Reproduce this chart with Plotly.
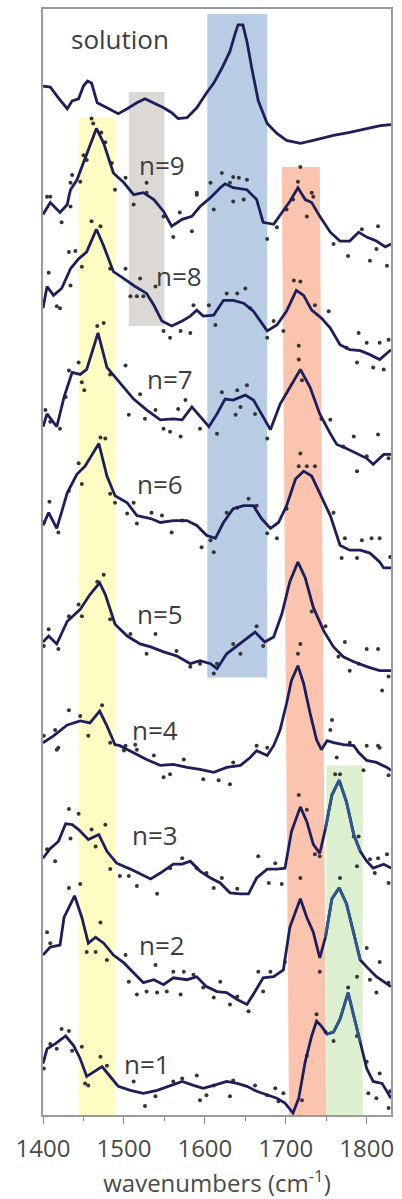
import plotly.graph_objects as go

# ---- spectra (wavenumber, stacked intensity in offset units) ----
sol_x = [1400, 1409, 1419, 1430, 1436, 1444, 1450, 1455, 1460, 1467, 1479, 1493, 1504, 1516, 1526, 1537,
         1549, 1559, 1567, 1578, 1590, 1602, 1611, 1621, 1631, 1637, 1641, 1647, 1652, 1658, 1666, 1677,
         1689, 1701, 1718, 1734, 1759, 1779, 1800, 1817, 1830]
sol_y = [1042, 1041, 1030, 1019, 1027, 1029, 1042, 1047, 1045, 1025, 1020, 1014, 1019, 1025, 1029, 1025,
         1020, 1015, 1009, 1010, 1020, 1035, 1045, 1060, 1077, 1094, 1104, 1104, 1087, 1060, 1027, 1004,
         994, 987, 984, 987, 992, 995, 999, 1002, 1003]

n9_x = [1400, 1409, 1421, 1430, 1432, 1434, 1442, 1454, 1466, 1475, 1487, 1500, 1512, 1524, 1537, 1549,
        1559, 1572, 1584, 1594, 1607, 1619, 1625, 1635, 1652, 1664, 1672, 1685, 1695, 1705, 1715, 1724,
        1732, 1742, 1755, 1767, 1779, 1790, 1800, 1812, 1823, 1830]
n9_y = [912, 924, 914, 922, 930, 937, 947, 974, 999, 984, 954, 944, 932, 934, 927, 915,
        900, 907, 910, 920, 929, 939, 943, 939, 937, 927, 904, 902, 914, 925, 939, 927,
        924, 910, 894, 885, 885, 894, 889, 885, 879, 882]

n8_x = [1400, 1405, 1413, 1423, 1434, 1444, 1454, 1466, 1475, 1487, 1500, 1512, 1528, 1537, 1547, 1559,
        1572, 1582, 1590, 1598, 1611, 1623, 1635, 1648, 1660, 1668, 1677, 1689, 1701, 1713, 1722, 1732,
        1744, 1755, 1767, 1779, 1792, 1804, 1816, 1830]
n8_y = [817, 839, 830, 837, 857, 867, 874, 897, 880, 854, 847, 840, 832, 820, 804, 799,
        804, 809, 815, 809, 810, 825, 825, 822, 814, 804, 794, 800, 814, 835, 830, 815,
        807, 797, 780, 775, 774, 770, 765, 775]

n7_x = [1400, 1405, 1417, 1426, 1436, 1446, 1454, 1468, 1479, 1487, 1500, 1512, 1528, 1545, 1561, 1572,
        1584, 1594, 1605, 1615, 1625, 1635, 1650, 1660, 1672, 1681, 1693, 1705, 1718, 1730, 1742, 1755,
        1763, 1775, 1788, 1800, 1808, 1821, 1830]
n7_y = [697, 710, 697, 727, 752, 750, 755, 792, 757, 749, 737, 725, 714, 704, 705, 704,
        717, 707, 697, 710, 725, 724, 729, 724, 707, 694, 720, 737, 755, 737, 710, 690,
        679, 675, 670, 665, 659, 669, 669]

n6_x = [1400, 1407, 1417, 1430, 1442, 1452, 1469, 1479, 1489, 1504, 1516, 1533, 1545, 1561, 1578, 1590,
        1602, 1613, 1623, 1635, 1648, 1660, 1670, 1681, 1691, 1701, 1712, 1722, 1732, 1742, 1755, 1767,
        1779, 1792, 1804, 1816, 1821, 1830]
n6_y = [597, 610, 594, 630, 649, 657, 680, 647, 627, 620, 607, 604, 600, 602, 602, 597,
        587, 584, 600, 614, 617, 617, 604, 594, 600, 617, 644, 652, 647, 630, 607, 577,
        572, 572, 569, 560, 554, 554]

n5_x = [1400, 1407, 1417, 1430, 1446, 1458, 1470, 1477, 1489, 1504, 1520, 1533, 1549, 1565, 1582, 1594,
        1607, 1615, 1627, 1640, 1652, 1662, 1674, 1685, 1695, 1705, 1715, 1724, 1734, 1747, 1759, 1771,
        1784, 1800, 1816, 1830]
n5_y = [479, 485, 477, 500, 512, 527, 539, 527, 497, 485, 477, 474, 469, 465, 457, 460,
        457, 452, 467, 475, 482, 489, 479, 484, 507, 540, 560, 544, 514, 490, 474, 464,
        459, 454, 450, 450]

n4_x = [1400, 1413, 1430, 1446, 1458, 1470, 1479, 1489, 1495, 1512, 1528, 1545, 1561, 1578, 1594, 1611,
        1627, 1644, 1656, 1664, 1677, 1685, 1693, 1701, 1707, 1715, 1722, 1730, 1738, 1744, 1751, 1759,
        1771, 1784, 1790, 1800, 1812, 1825, 1830]
n4_y = [377, 384, 395, 399, 397, 409, 394, 375, 374, 367, 360, 354, 355, 352, 350, 347,
        352, 354, 362, 369, 364, 374, 390, 417, 440, 455, 437, 407, 380, 370, 379, 377,
        375, 374, 367, 359, 357, 352, 349]

n3_x = [1400, 1409, 1419, 1428, 1436, 1444, 1456, 1469, 1479, 1491, 1508, 1520, 1533, 1545, 1561, 1572,
        1582, 1594, 1607, 1619, 1631, 1644, 1654, 1664, 1677, 1689, 1699, 1707, 1718, 1726, 1734, 1742,
        1749, 1757, 1766, 1775, 1784, 1792, 1800, 1808, 1821, 1830]
n3_y = [260, 270, 277, 295, 294, 289, 279, 284, 267, 255, 249, 244, 239, 245, 254, 254,
        257, 247, 240, 235, 225, 224, 224, 240, 249, 249, 250, 287, 312, 297, 274, 265,
        290, 324, 339, 317, 284, 267, 257, 250, 254, 250]

n2_x = [1400, 1409, 1421, 1426, 1439, 1448, 1456, 1465, 1475, 1487, 1500, 1512, 1524, 1537, 1549, 1561,
        1578, 1590, 1602, 1615, 1627, 1640, 1652, 1662, 1672, 1685, 1697, 1705, 1718, 1726, 1734, 1742,
        1749, 1757, 1766, 1775, 1784, 1792, 1800, 1812, 1821, 1830]
n2_y = [162, 170, 172, 200, 222, 200, 174, 180, 174, 162, 154, 144, 134, 137, 132, 139,
        137, 140, 130, 125, 124, 117, 112, 125, 139, 140, 147, 190, 219, 200, 185, 159,
        180, 219, 230, 214, 184, 157, 150, 140, 135, 130]

n1_x = [1400, 1405, 1415, 1428, 1438, 1446, 1454, 1465, 1473, 1483, 1493, 1508, 1524, 1541, 1557, 1572,
        1586, 1598, 1611, 1627, 1640, 1652, 1664, 1677, 1689, 1699, 1709, 1716, 1724, 1732, 1738, 1744,
        1751, 1759, 1767, 1777, 1784, 1792, 1800, 1808, 1819, 1830]
n1_y = [52, 67, 72, 80, 70, 57, 39, 45, 49, 39, 29, 25, 22, 25, 30, 34,
        30, 27, 30, 34, 32, 29, 24, 20, 17, 12, 2, 17, 54, 80, 95, 90,
        82, 84, 97, 124, 100, 74, 47, 34, 32, 17]

# ---- raw data points scattered about each averaged spectrum ----
n9_dx = [1460, 1462, 1472, 1477, 1450, 1454, 1436, 1446, 1434, 1485, 1489, 1502, 1528, 1590, 1621, 1635,
         1642, 1652, 1607, 1631, 1718, 1715, 1732, 1405, 1409, 1423, 1434, 1512, 1528, 1549, 1561, 1569,
         1584, 1590, 1611, 1635, 1648, 1677, 1689, 1701, 1709, 1726, 1734, 1759, 1777, 1794, 1804, 1812,
         1814, 1825]
n9_dy = [1009, 1004, 995, 985, 972, 967, 952, 945, 944, 964, 937, 949, 944, 934, 954, 950,
         949, 947, 944, 944, 960, 945, 934, 930, 930, 904, 920, 922, 934, 910, 889, 914,
         895, 932, 917, 925, 927, 887, 899, 917, 927, 910, 930, 882, 870, 897, 865, 877,
         900, 860]

n8_dx = [1407, 1417, 1421, 1434, 1432, 1440, 1448, 1460, 1471, 1483, 1502, 1520, 1508, 1516, 1524, 1539,
         1549, 1557, 1570, 1582, 1586, 1605, 1613, 1627, 1640, 1650, 1656, 1677, 1685, 1697, 1710, 1718,
         1736, 1753, 1790, 1775, 1800, 1816, 1827, 1788, 1808, 1821]
n8_dy = [853, 819, 817, 840, 874, 875, 859, 905, 900, 857, 857, 847, 829, 829, 829, 839,
         794, 787, 794, 792, 820, 820, 800, 832, 832, 837, 817, 787, 804, 794, 845, 844,
         820, 814, 792, 777, 782, 782, 785, 762, 757, 755]

n7_dx = [1467, 1475, 1444, 1432, 1502, 1716, 1716, 1403, 1409, 1421, 1448, 1451, 1428, 1483, 1506, 1520,
         1526, 1539, 1549, 1557, 1570, 1567, 1576, 1594, 1615, 1621, 1640, 1652, 1638, 1644, 1662, 1677,
         1720, 1744, 1755, 1771, 1784, 1788, 1800, 1814, 1827]
n7_dy = [799, 802, 762, 754, 759, 779, 765, 714, 702, 695, 742, 734, 727, 750, 709, 730,
         705, 714, 695, 692, 687, 715, 724, 695, 690, 732, 734, 739, 709, 717, 710, 685,
         744, 705, 704, 677, 687, 652, 667, 689, 665]

n6_dx = [1408, 1401, 1419, 1432, 1444, 1448, 1471, 1477, 1483, 1489, 1504, 1512, 1516, 1534, 1547, 1559,
         1572, 1596, 1611, 1607, 1627, 1640, 1654, 1664, 1677, 1689, 1701, 1718, 1716, 1726, 1736, 1759,
         1773, 1788, 1794, 1806, 1816, 1829, 1769]
n6_dy = [621, 600, 590, 632, 660, 639, 686, 685, 629, 620, 609, 620, 599, 610, 607, 590,
         602, 575, 570, 582, 610, 615, 624, 617, 589, 584, 614, 670, 657, 657, 657, 610,
         584, 564, 582, 584, 584, 565, 564]

n5_dx = [1407, 1401, 1419, 1432, 1444, 1448, 1467, 1475, 1483, 1508, 1528, 1539, 1565, 1582, 1594, 1611,
         1615, 1635, 1644, 1664, 1672, 1732, 1749, 1765, 1773, 1779, 1800, 1814, 1819, 1827, 1790]
n5_dy = [492, 475, 472, 505, 517, 505, 540, 547, 502, 487, 467, 487, 470, 454, 457, 447,
         457, 477, 467, 495, 475, 510, 495, 464, 479, 450, 472, 472, 430, 444, 457]

n4_dx = [1401, 1415, 1417, 1432, 1446, 1456, 1473, 1483, 1502, 1514, 1677, 1718, 1715, 1755, 1757, 1779,
         1800, 1814, 1419, 1500, 1516, 1537, 1549, 1557, 1574, 1598, 1617, 1631, 1635, 1664, 1763, 1816,
         1827, 1796]
n4_dy = [384, 390, 370, 410, 404, 384, 415, 377, 374, 375, 372, 477, 467, 390, 400, 377,
         374, 374, 372, 369, 370, 364, 342, 345, 360, 340, 339, 335, 357, 374, 362, 372,
         344, 349]

n3_dx = [1432, 1444, 1434, 1415, 1405, 1460, 1465, 1477, 1483, 1495, 1506, 1516, 1541, 1557, 1572, 1590,
         1602, 1611, 1621, 1640, 1666, 1679, 1687, 1695, 1716, 1726, 1736, 1742, 1761, 1767, 1784, 1790,
         1788, 1804, 1814, 1810, 1825, 1827]
n3_dy = [310, 305, 280, 257, 269, 289, 272, 294, 249, 242, 242, 232, 224, 250, 260, 250,
         245, 230, 240, 229, 262, 235, 255, 234, 324, 309, 264, 262, 345, 345, 282, 282,
         252, 259, 260, 245, 264, 235]

n2_dx = [1432, 1446, 1471, 1405, 1718, 1767, 1409, 1454, 1465, 1479, 1502, 1506, 1516, 1528, 1539, 1541,
         1553, 1561, 1574, 1570, 1586, 1598, 1611, 1619, 1631, 1640, 1654, 1666, 1672, 1681, 1699, 1742,
         1800, 1788, 1804, 1812, 1816, 1827]
n2_dy = [230, 234, 195, 185, 240, 240, 174, 165, 165, 157, 162, 135, 122, 125, 152, 124,
         125, 145, 145, 122, 142, 129, 119, 135, 112, 120, 105, 145, 125, 145, 155, 145,
         169, 140, 137, 124, 155, 134]

n1_dx = [1401, 1409, 1417, 1423, 1432, 1436, 1448, 1452, 1456, 1471, 1479, 1512, 1526, 1539, 1561, 1572,
         1590, 1594, 1602, 1611, 1631, 1635, 1662, 1677, 1687, 1691, 1697, 1720, 1726, 1738, 1749, 1759,
         1777, 1788, 1800, 1802, 1812, 1816, 1827, 1829]
n1_dy = [47, 72, 67, 87, 85, 65, 69, 32, 30, 59, 50, 34, 9, 19, 34, 37,
         40, 15, 20, 30, 19, 35, 30, 20, 27, 14, 22, 15, 60, 102, 84, 75,
         129, 80, 54, 22, 17, 42, 7, 24]

# ---- labels ----
labels = ["solution", "n=9", "n=8", "n=7", "n=6", "n=5", "n=4", "n=3", "n=2", "n=1"]
label_x = [1495, 1547, 1568, 1557, 1544, 1544, 1539, 1539, 1547, 1528]
label_y = [1090, 962, 850, 745, 639, 507, 390, 284, 172, 52]

# ---- highlighted spectral regions ----
yellow_band = (1444, 1489, 0, 1010)
gray_band = (1506, 1550, 799, 1036)
blue_band = (1603, 1677, 443, 1115)
# salmon band drifts slightly to higher wavenumber toward the bottom
salmon_top = (1695, 1742, 960)
salmon_bottom = (1704, 1750, 0)
green_band = (1750, 1795, 0, 354)
green_lo, green_hi = 1749, 1795

tick_vals = [1400, 1500, 1600, 1700, 1800]
tick_text = ["1400", "1500", "1600", "1700", "1800"]

LINE = "#1d1e5c"
LINE_GREEN = "#2e5790"
DOT = "#353535"

fig = go.Figure()

def rect(b, color):
    x0, x1, y0, y1 = b
    fig.add_shape(type="rect", xref="x", yref="y", x0=x0, x1=x1, y0=y0, y1=y1,
                  fillcolor=color, line_width=0, layer="below")

rect(yellow_band, "#fffcc3")
rect(gray_band, "#dcd8d4")
rect(blue_band, "#b8cce3")
rect(green_band, "#dcf0cf")
fig.add_shape(type="path", xref="x", yref="y", layer="below", line_width=0, fillcolor="#fbc4ae",
              path=(f"M {salmon_top[0]},{salmon_top[2]} L {salmon_top[1]},{salmon_top[2]} "
                    f"L {salmon_bottom[1]},{salmon_bottom[2]} L {salmon_bottom[0]},{salmon_bottom[2]} Z"))

dots = [(n9_dx, n9_dy), (n8_dx, n8_dy), (n7_dx, n7_dy), (n6_dx, n6_dy), (n5_dx, n5_dy),
        (n4_dx, n4_dy), (n3_dx, n3_dy), (n2_dx, n2_dy), (n1_dx, n1_dy)]
for dx, dy in dots:
    fig.add_trace(go.Scatter(x=dx, y=dy, mode="markers",
                             marker=dict(size=4, color=DOT), hoverinfo="skip"))

lines = [(sol_x, sol_y), (n9_x, n9_y), (n8_x, n8_y), (n7_x, n7_y), (n6_x, n6_y), (n5_x, n5_y),
         (n4_x, n4_y), (n3_x, n3_y), (n2_x, n2_y), (n1_x, n1_y)]
for lx, ly in lines:
    fig.add_trace(go.Scatter(x=lx, y=ly, mode="lines",
                             line=dict(color=LINE, width=2.8)))

# the green-band portion of the n=1..3 spectra is drawn in a lighter blue
for lx, ly in [(n3_x, n3_y), (n2_x, n2_y), (n1_x, n1_y)]:
    sx = [x for x in lx if green_lo <= x <= green_hi]
    sy = [y for x, y in zip(lx, ly) if green_lo <= x <= green_hi]
    fig.add_trace(go.Scatter(x=sx, y=sy, mode="lines",
                             line=dict(color=LINE_GREEN, width=2.8)))

for t, x, y in zip(labels, label_x, label_y):
    fig.add_annotation(x=x, y=y, xref="x", yref="y", text=t, showarrow=False,
                       font=dict(family="Open Sans", size=26, color="#3d3d3d"))

fig.update_layout(
    width=402, height=1199,
    margin=dict(l=43, r=11, t=7, b=72),
    paper_bgcolor="white", plot_bgcolor="white",
    showlegend=False,
    font=dict(family="Open Sans", color="#4a4a4a"),
)
fig.update_xaxes(
    range=[1400, 1830], tickvals=tick_vals, ticktext=tick_text,
    ticks="outside", ticklen=7, tickwidth=1.2, tickcolor="#888888",
    ticklabelstandoff=4,
    minor=dict(dtick=50, tick0=1400, ticks="outside", ticklen=4, tickcolor="#888888"),
    showline=True, linecolor="#9a9a9a", linewidth=1.6, mirror=True,
    showgrid=False, zeroline=False,
    tickfont=dict(family="Open Sans", size=24, color="#4a4a4a"),
    title=dict(text="wavenumbers (cm<sup>-1</sup>)", standoff=12,
               font=dict(family="Open Sans", size=24, color="#4a4a4a")),
)
fig.update_yaxes(
    range=[0, 1120], showline=True, linecolor="#9a9a9a", linewidth=1.6, mirror=True,
    showticklabels=False, ticks="", showgrid=False, zeroline=False,
)

fig.write_html("out.html")
